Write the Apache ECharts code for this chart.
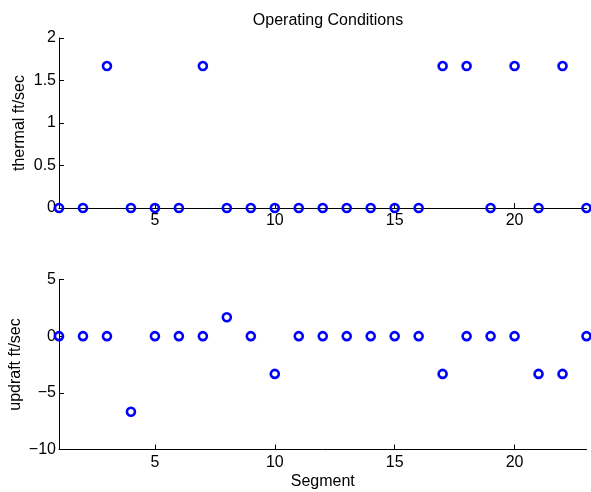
<!DOCTYPE html>
<html>
<head>
<meta charset="utf-8">
<script src="https://cdn.jsdelivr.net/npm/echarts@6/dist/echarts.min.js"></script>
<style>
  html, body { margin: 0; padding: 0; background: #fff; }
  #chart { width: 591px; height: 492px; }
</style>
</head>
<body>
<div id="chart"></div>
<script>
// segment numbers 1..23
const segments = [1, 2, 3, 4, 5, 6, 7, 8, 9, 10, 11, 12, 13, 14, 15, 16, 17, 18, 19, 20, 21, 22, 23]
// thermal ft/sec per segment
const thermal = [0, 0, 1.67, 0, 0, 0, 1.67, 0, 0, 0, 0, 0, 0, 0, 0, 0, 1.67, 1.67, 0, 1.67, 0, 1.67, 0]
// updraft ft/sec per segment
const updraft = [0, 0, 0, -6.67, 0, 0, 0, 1.67, 0, -3.33, 0, 0, 0, 0, 0, 0, -3.33, 0, 0, 0, -3.33, -3.33, 0]
const xTicks = [5, 10, 15, 20]

const chart = echarts.init(document.getElementById('chart'))
const font = 'Liberation Sans, Arial, sans-serif'
const axisColor = '#000'

// common x axis settings
function makeXAxis (gridIndex, name) {
  return {
    type: 'value',
    gridIndex: gridIndex,
    min: 1,
    max: 23,
    name: name,
    nameLocation: 'middle',
    nameGap: 24,
    nameMoveOverlap: false,
    nameTextStyle: { color: '#000', fontSize: 16, fontFamily: font },
    axisLine: { show: true, onZero: false, lineStyle: { color: axisColor, width: 1 } },
    axisTick: { show: true, inside: true, length: 5, customValues: xTicks, lineStyle: { color: axisColor } },
    axisLabel: { customValues: xTicks, color: '#000', fontSize: 16, fontFamily: font, margin: 5 },
    splitLine: { show: false }
  }
}

function makeYAxis (gridIndex, name, min, max, interval, gap) {
  return {
    type: 'value',
    gridIndex: gridIndex,
    min: min,
    max: max,
    interval: interval,
    name: name,
    nameLocation: 'middle',
    nameRotate: 90,
    nameGap: gap,
    nameMoveOverlap: false,
    nameTextStyle: { color: '#000', fontSize: 16, fontFamily: font },
    axisLine: { show: true, onZero: false, lineStyle: { color: axisColor, width: 1 } },
    axisTick: { show: true, inside: true, length: 5, lineStyle: { color: axisColor } },
    axisLabel: {
      color: '#000',
      fontSize: 16,
      fontFamily: font,
      margin: 3,
      formatter: (v) => String(v).replace('-', '\u2212')
    },
    splitLine: { show: false }
  }
}

const markerStyle = {
  color: 'rgba(0,0,0,0)',
  borderColor: '#0000ff',
  borderWidth: 2.6,
  opacity: 1
}

const option = {
  animation: false,
  backgroundColor: '#fff',
  title: {
    text: 'Operating Conditions',
    left: 323,
    top: 8,
    textAlign: 'center',
    textStyle: { color: '#000', fontSize: 16, fontWeight: 'normal', fontFamily: font }
  },
  grid: [
    { left: 59, right: 4.5, top: 38, height: 170, containLabel: false, outerBoundsMode: 'none' },
    { left: 59, right: 4.5, top: 279.5, height: 170, containLabel: false, outerBoundsMode: 'none' }
  ],
  xAxis: [makeXAxis(0, ''), makeXAxis(1, 'Segment')],
  yAxis: [
    makeYAxis(0, 'thermal ft/sec', 0, 2, 0.5, 31),
    makeYAxis(1, 'updraft ft/sec', -10, 5, 5, 35)
  ],
  series: [
    {
      type: 'scatter',
      xAxisIndex: 0,
      yAxisIndex: 0,
      symbol: 'circle',
      symbolSize: 8,
      itemStyle: markerStyle,
      clip: false,
      data: segments.map((s, i) => [s, thermal[i]])
    },
    {
      type: 'scatter',
      xAxisIndex: 1,
      yAxisIndex: 1,
      symbol: 'circle',
      symbolSize: 8,
      itemStyle: markerStyle,
      clip: false,
      data: segments.map((s, i) => [s, updraft[i]])
    }
  ]
}

chart.setOption(option)
</script>
</body>
</html>
